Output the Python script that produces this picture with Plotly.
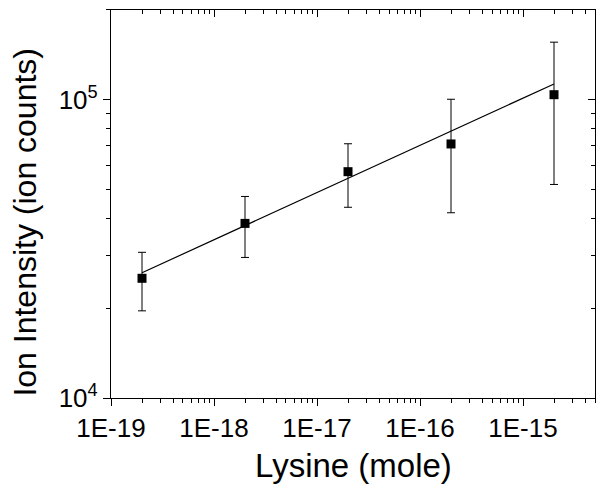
import plotly.graph_objects as go

# Data
lysine_mole = [2e-19, 2e-18, 2e-17, 2e-16, 2e-15]
ion_intensity = [25200, 38500, 57400, 71100, 104000]
ion_error = [5600, 8900, 13800, 29300, 52000]

fit_x = [2e-19, 2e-15]
fit_y = [26300, 113000]

x_tickvals = [1e-19, 1e-18, 1e-17, 1e-16, 1e-15]
x_ticktext = ["1E-19", "1E-18", "1E-17", "1E-16", "1E-15"]
y_tickvals = [1e4, 1e5]
y_ticktext = ["10<sup>4</sup>", "10<sup>5</sup>"]

x_title = "Lysine (mole)"
y_title = "Ion Intensity (ion counts)"

x_range = [-19, -14.301]
y_range = [4, 5.301]

FONT = "Liberation Sans, Arial, sans-serif"

fig = go.Figure()

fig.add_trace(go.Scatter(
    x=fit_x, y=fit_y, mode="lines",
    line=dict(color="black", width=1.2),
    showlegend=False, hoverinfo="skip",
))

fig.add_trace(go.Scatter(
    x=lysine_mole, y=ion_intensity, mode="markers",
    marker=dict(symbol="square", size=9, color="black"),
    error_y=dict(type="data", array=ion_error, symmetric=True,
                 color="black", thickness=1, width=4),
    showlegend=False,
))

# invisible trace for mirrored (top/right) axes
fig.add_trace(go.Scatter(
    x=[1e-19], y=[1e4], xaxis="x2", yaxis="y2", mode="markers",
    marker=dict(opacity=0), showlegend=False, hoverinfo="skip",
))

axis_common = dict(showgrid=False, zeroline=False, showline=True,
                   linecolor="black", linewidth=1.2, tickcolor="black",
                   tickwidth=1.2, automargin=False)

minor_out = dict(ticks="outside", ticklen=4, dtick="D1", tickcolor="black", tickwidth=1.2)
minor_in = dict(ticks="inside", ticklen=4, dtick="D1", tickcolor="black", tickwidth=1.2)

# page body has an 8px margin, so the figure is sized/offset to compensate
fig.update_layout(
    width=596, height=486,
    margin=dict(l=103, r=9, t=2, b=96),
    paper_bgcolor="white", plot_bgcolor="white",
    font=dict(family=FONT, color="black"),
    xaxis=dict(
        type="log", range=x_range,
        tickmode="array", tickvals=x_tickvals, ticktext=x_ticktext,
        ticks="outside", ticklen=7, minor=minor_out,
        tickfont=dict(size=26, family=FONT, color="black"),
        **axis_common,
    ),
    yaxis=dict(
        type="log", range=y_range,
        tickmode="array", tickvals=y_tickvals, ticktext=y_ticktext,
        ticks="outside", ticklen=7, minor=minor_out,
        tickfont=dict(size=26, family=FONT, color="black"),
        **axis_common,
    ),
    xaxis2=dict(
        type="log", range=x_range, overlaying="x", side="top",
        tickmode="linear", tick0=0, dtick=1, showticklabels=False,
        ticks="inside", ticklen=7, minor=minor_in,
        **axis_common,
    ),
    yaxis2=dict(
        type="log", range=y_range, overlaying="y", side="right",
        tickmode="linear", tick0=0, dtick=1, showticklabels=False,
        ticks="inside", ticklen=7, minor=minor_in,
        **axis_common,
    ),
    annotations=[
        dict(text=x_title, xref="paper", yref="paper", x=0.5, y=0,
             xanchor="center", yanchor="middle", yshift=-67, showarrow=False,
             font=dict(size=33, family=FONT, color="black")),
        dict(text=y_title, xref="paper", yref="paper", x=0, y=0.452,
             xanchor="center", yanchor="middle", xshift=-86, textangle=-90,
             showarrow=False, font=dict(size=32, family=FONT, color="black")),
    ],
)

fig.write_html("out.html")
